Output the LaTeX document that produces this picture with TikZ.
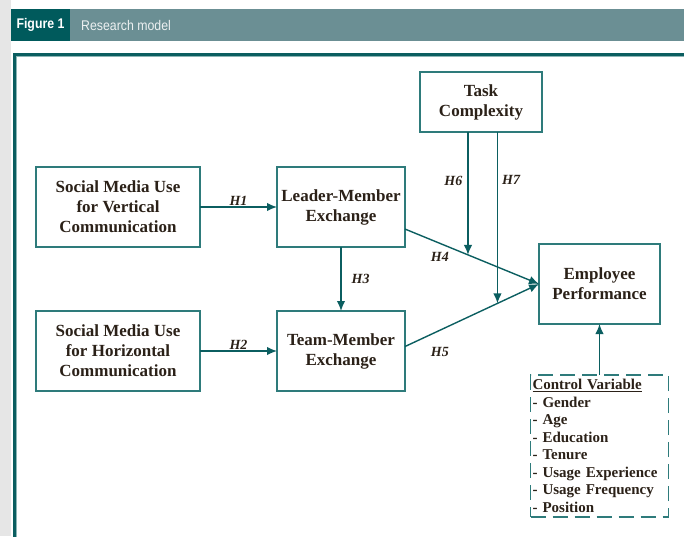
\documentclass[tikz,border=0pt]{standalone}
\usepackage{fontspec}
\setmainfont{Liberation Serif}
\newfontfamily\barfont{Liberation Sans}
\usepackage{xcolor}
\usepackage{tikz}
\usetikzlibrary{positioning, arrows.meta, calc}

\definecolor{tealline}{HTML}{2E7B7B}
\definecolor{tealdark}{HTML}{0B5E60}
\definecolor{barlight}{HTML}{6B8F94}
\definecolor{bardark}{HTML}{005A5C}
\definecolor{txtdark}{HTML}{2B2118}
\definecolor{pagegray}{HTML}{E6E6E6}

\begin{document}
\begin{tikzpicture}[x=1pt, y=-1pt, node distance=64pt,
  var/.style={rectangle, draw=tealline, line width=1.4pt, fill=white, text=txtdark, align=center, minimum height=80pt, inner sep=2pt, outer sep=0pt, font=\fontsize{17}{20}\selectfont\bfseries},
  hyp/.style={text=txtdark, inner sep=1pt, font=\fontsize{14}{16}\selectfont\bfseries\itshape},
  ctrlbox/.style={rectangle, draw=tealline, line width=1.7pt, dash pattern=on 15pt off 7pt, text=txtdark, align=left, text width=134pt, inner sep=2pt, outer sep=0pt, minimum height=142pt, font=\fontsize{15}{17.5}\selectfont\bfseries},
  arrow/.style={-{Latex[length=10pt,width=8.5pt]}, line width=1.4pt, draw=tealdark},
  bartext/.style={text=white, inner sep=0pt, xscale=0.88, font=\barfont\fontsize{14}{16}\selectfont}
]
  % page, title bar and frame
  \useasboundingbox (0,0) rectangle (684,536);
  \fill[pagegray] (0,0) rectangle (11,536);
  \fill[barlight] (11,9) rectangle (684,41);
  \fill[bardark] (11,9) rectangle (70,41);
  \node[bartext, font=\barfont\bfseries\fontsize{14}{16}\selectfont] (fignum) at (40.5,25) {Figure 1};
  \node[bartext, text=white!88!barlight, anchor=west] (figcap) at (81,25) {Research model};
  \draw[tealdark, line width=3pt, line join=miter] (686,54) -- (14,54) -- (14,540);
  \draw[tealline!55, line width=0.8pt] (686,56.3) -- (16.3,56.3) -- (16.3,540);

  % constructs
  \node[var, minimum width=164pt] (smv) at (118,207) {Social Media Use\\for Vertical\\Communication};
  \node[var, minimum width=128pt, right=77pt of smv] (lmx) {Leader-Member\\Exchange};
  \node[var, minimum width=164pt, below=of smv] (smh) {Social Media Use\\for Horizontal\\Communication};
  \node[var, minimum width=128pt, below=of lmx] (tmx) {Team-Member\\Exchange};
  \node[var, minimum width=122pt, minimum height=60pt, above right=35pt and 15pt of lmx] (task) {Task\\Complexity};
  \node[var, minimum width=121pt] (ep) at (599.5,284) {Employee\\Performance};
  \node[ctrlbox, below=51pt of ep] (ctrl) {\underline{Control Variable}\\- Gender\\- Age\\- Education\\- Tenure\\- Usage Experience\\- Usage Frequency\\- Position};

  % hypotheses
  \draw[arrow] (smv) -- node[hyp, above] {H1} (lmx);
  \draw[arrow] (smh) -- node[hyp, above] {H2} (tmx);
  \draw[arrow] (lmx) -- node[hyp, right=9pt] {H3} (tmx);
  \draw[arrow] (lmx.-19) -- node[hyp, pos=0.26, below=7pt] {H4} coordinate[pos=0.47] (m4) (ep.west);
  \draw[arrow] (tmx.4) -- node[hyp, pos=0.26, below=15pt] {H5} coordinate[pos=0.69] (m5) (ep.west);
  \draw[arrow] (task.south -| m4) -- node[hyp, pos=0.4, left=4pt] {H6} (m4);
  \draw[arrow] (task.south -| m5) -- node[hyp, pos=0.28, right=3pt] {H7} (m5);
  \draw[arrow] (ctrl) -- (ep);
\end{tikzpicture}
\end{document}
